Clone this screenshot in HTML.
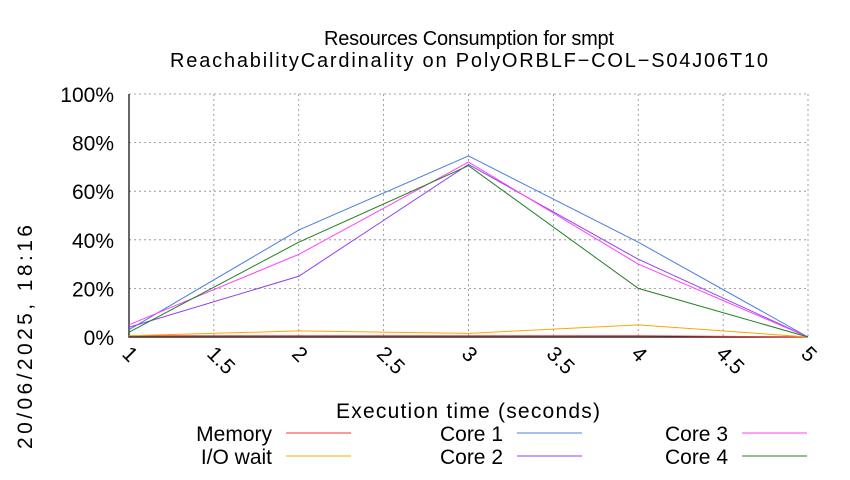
<!DOCTYPE html>
<html><head><meta charset="utf-8"><style>
body{margin:0;background:#fff;}
svg{font-family:"Liberation Sans",sans-serif;}
</style></head><body>
<svg id="c" width="850" height="475">
<text x="469" y="45" font-size="20" text-anchor="middle" textLength="290">Resources Consumption for smpt</text>
<text x="469" y="67" font-size="20" text-anchor="middle" textLength="598">ReachabilityCardinality on PolyORBLF−COL−S04J06T10</text>
<text x="468" y="418" font-size="21" text-anchor="middle" textLength="264">Execution time (seconds)</text>
<text transform="translate(32,337) rotate(-90)" font-size="21" text-anchor="middle" textLength="224">20/06/2025, 18:16</text>
<g id="grid"></g><g id="series"></g><g id="legend"></g>
</svg>
<script>
const xTicks=[1,1.5,2,2.5,3,3.5,4,4.5,5];
const yTicks=[0,20,40,60,80,100];
const times=[1,2,3,4,5];
const memory=[0.5,0.5,0.5,0.5,0];
const ioWait=[0.5,2.5,1.5,5,0];
const core1=[3,44,74.5,39,0];
const core2=[4,25,71,32,0];
const core3=[5,34,72,30,0];
const core4=[2,39,70.5,20,0];
const NS="http://www.w3.org/2000/svg";
const L=129,R=808,T=94,B=337;
const xs=v=>L+(v-1)/4*(R-L);
const ys=v=>B-v/100*(B-T);
function mk(tag,attrs,parent){const e=document.createElementNS(NS,tag);for(const k in attrs)e.setAttribute(k,attrs[k]);parent.appendChild(e);return e;}
const g=document.getElementById('grid');
yTicks.forEach(v=>{
 if(v>0){const l=mk('line',{x1:L,x2:R,y1:ys(v),y2:ys(v),stroke:'#888','stroke-dasharray':'2,3','stroke-width':0.8},g);
 
 }
 const t=mk('text',{x:L-15,y:ys(v)+8,'font-size':21,'text-anchor':'end'},g);t.textContent=v+'%';
 
 
});
xTicks.forEach(v=>{
 if(v>1){const l=mk('line',{x1:xs(v),x2:xs(v),y1:T,y2:B,stroke:'#888','stroke-dasharray':'2,3','stroke-width':0.8},g);
 
 }
 const t=mk('text',{transform:`translate(${xs(v)-8},${B+18}) rotate(45)`,'font-size':21},g);t.textContent=v;
 
 
});
const ax=mk('path',{d:`M${L},${T} V${B} H${R}`,fill:'none',stroke:'#000','stroke-width':1.2},g);


const series=[["Memory",memory,"#ff3030"],["I/O wait",ioWait,"#ffa500"],["Core 1",core1,"#4a7fe0"],["Core 2",core2,"#9040f0"],["Core 3",core3,"#ff40ff"],["Core 4",core4,"#208020"]];
const sg=document.getElementById('series'),lg=document.getElementById('legend');
series.forEach((s,i)=>{
 const p=mk('polyline',{points:times.map((t,j)=>xs(t)+','+ys(s[1][j])).join(' '),fill:'none',stroke:s[2],'stroke-width':1},sg);
 
 
 const col=Math.floor(i/2),row=i%2;
 const tx=[272,503,728][col],ly=441+row*23;
 const t=mk('text',{x:tx,y:ly,'font-size':21,'text-anchor':'end'},lg);t.textContent=s[0];
 
 
 const l=mk('line',{x1:tx+14,x2:tx+79,y1:ly-8,y2:ly-8,stroke:s[2],'stroke-width':1},lg);
 
 
});
</script>
</body></html>
